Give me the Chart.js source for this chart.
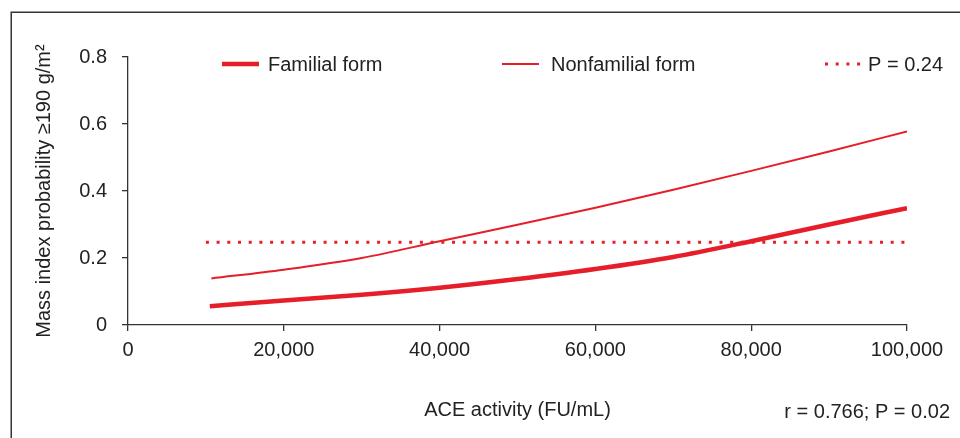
<!DOCTYPE html>
<html>
<head>
  <meta charset="utf-8">
  <title>Mass index probability vs. ACE activity</title>
  <script src="https://cdn.jsdelivr.net/npm/chart.js"></script>
  <style>
    body {
      margin: 0;
      overflow: hidden;
      background: #fff;
    }
    .chart-container {
      position: relative;
      width: 960px;
      height: 438px;
    }
  </style>
</head>
<body>
  <div class="chart-container">
    <canvas id="aceChart"></canvas>
  </div>

  <script>
    // Values (ACE activity in FU/mL, probability 0-1)
    const familialX = [10500, 20000, 30000, 40000, 50000, 60000, 70000, 80000, 90000, 100000];
    const familialY = [0.056, 0.073, 0.090, 0.111, 0.137, 0.167, 0.203, 0.250, 0.300, 0.349];
    const nonfamilialX = [10700, 20000, 30000, 40000, 50000, 60000, 70000, 80000, 90000, 100000];
    const nonfamilialY = [0.139, 0.165, 0.200, 0.250, 0.299, 0.350, 0.404, 0.460, 0.518, 0.578];
    const pLineX = [10000, 100000];
    const pLineY = [0.247, 0.247];

    const xTicks = [0, 20000, 40000, 60000, 80000, 100000];
    const yTicks = [0, 0.2, 0.4, 0.6, 0.8];
    const seriesLabels = ['Familial form', 'Nonfamilial form', 'P = 0.24'];
    const statsText = 'r = 0.766; P = 0.02';

    const RED = '#e61e2a';
    const INK = '#222';
    const FONT = '"Liberation Sans", Arial, Helvetica, sans-serif';
    const FS = 20;

    const toPoints = (xs, ys) => xs.map((x, i) => ({ x: x, y: ys[i] }));

    // frame, legend and the r/P note are drawn by hand
    const overlay = {
      id: 'overlay',
      beforeDraw(chart) {
        const ctx = chart.ctx;
        ctx.save();
        ctx.strokeStyle = '#333';
        ctx.lineWidth = 1.5;
        ctx.beginPath();
        ctx.moveTo(11.25, 440);
        ctx.lineTo(11.25, 12.25);
        ctx.lineTo(962, 12.25);
        ctx.stroke();
        ctx.restore();
      },
      afterDraw(chart) {
        const ctx = chart.ctx;
        const lineX = [222, 502, 825];
        const lineLen = [37, 37, 37];
        const textX = [268, 551, 868];
        const y = 64;
        ctx.save();
        ctx.font = FS + 'px ' + FONT;
        ctx.fillStyle = INK;
        ctx.textBaseline = 'middle';
        chart.data.datasets.forEach((ds, i) => {
          ctx.save();
          ctx.strokeStyle = ds.borderColor;
          ctx.lineWidth = ds.borderWidth;
          ctx.setLineDash(ds.borderDash || []);
          ctx.beginPath();
          ctx.moveTo(lineX[i], y);
          ctx.lineTo(lineX[i] + lineLen[i], y);
          ctx.stroke();
          ctx.restore();
          ctx.fillText(ds.label, textX[i], y + 1);
        });
        ctx.textAlign = 'right';
        ctx.fillText(statsText, 950, 412);
        ctx.restore();
      }
    };

    const ctx = document.getElementById('aceChart').getContext('2d');
    const aceChart = new Chart(ctx, {
      type: 'line',
      data: {
        datasets: [
          {
            label: seriesLabels[0],
            data: toPoints(familialX, familialY),
            borderColor: RED,
            borderWidth: 4.5,
            pointRadius: 0,
            cubicInterpolationMode: 'monotone',
            fill: false
          },
          {
            label: seriesLabels[1],
            data: toPoints(nonfamilialX, nonfamilialY),
            borderColor: RED,
            borderWidth: 2,
            pointRadius: 0,
            cubicInterpolationMode: 'monotone',
            fill: false
          },
          {
            label: seriesLabels[2],
            data: toPoints(pLineX, pLineY),
            borderColor: RED,
            borderWidth: 3,
            borderDash: [3, 7.7],
            pointRadius: 0,
            fill: false
          }
        ]
      },
      options: {
        responsive: true,
        maintainAspectRatio: false,
        animation: false,
        layout: {
          padding: { top: 57, right: 53, left: 0, bottom: 0 }
        },
        plugins: {
          legend: { display: false },
          tooltip: { enabled: false }
        },
        scales: {
          x: {
            type: 'linear',
            min: 0,
            max: 100000,
            afterFit: (scale) => { scale.height = 113; },
            afterBuildTicks: (scale) => { scale.ticks = xTicks.map(v => ({ value: v })); },
            grid: { drawOnChartArea: false, drawTicks: true, tickLength: 6, color: '#333', lineWidth: 1.3 },
            border: { display: true, color: '#333', width: 1.3 },
            ticks: {
              color: INK,
              font: { family: FONT, size: FS },
              padding: 7,
              maxRotation: 0,
              callback: (v) => v.toLocaleString('en-US')
            },
            title: {
              display: true,
              text: 'ACE activity (FU/mL)',
              color: INK,
              font: { family: FONT, size: FS },
              padding: { top: 0, bottom: 16 }
            }
          },
          y: {
            min: 0,
            max: 0.8,
            afterFit: (scale) => { scale.width = 128; },
            afterBuildTicks: (scale) => { scale.ticks = yTicks.map(v => ({ value: v })); },
            grid: { drawOnChartArea: false, drawTicks: true, tickLength: 6, color: '#333', lineWidth: 1.3 },
            border: { display: true, color: '#333', width: 1.3 },
            ticks: {
              color: INK,
              font: { family: FONT, size: FS },
              padding: 15,
              callback: (v) => v === 0 ? '0' : v.toFixed(1)
            },
            title: {
              display: true,
              text: 'Mass index probability \u2265190 g/m\u00b2',
              color: INK,
              font: { family: FONT, size: FS },
              padding: { top: 32, bottom: 0 }
            }
          }
        }
      },
      plugins: [overlay]
    });
  </script>
</body>
</html>
